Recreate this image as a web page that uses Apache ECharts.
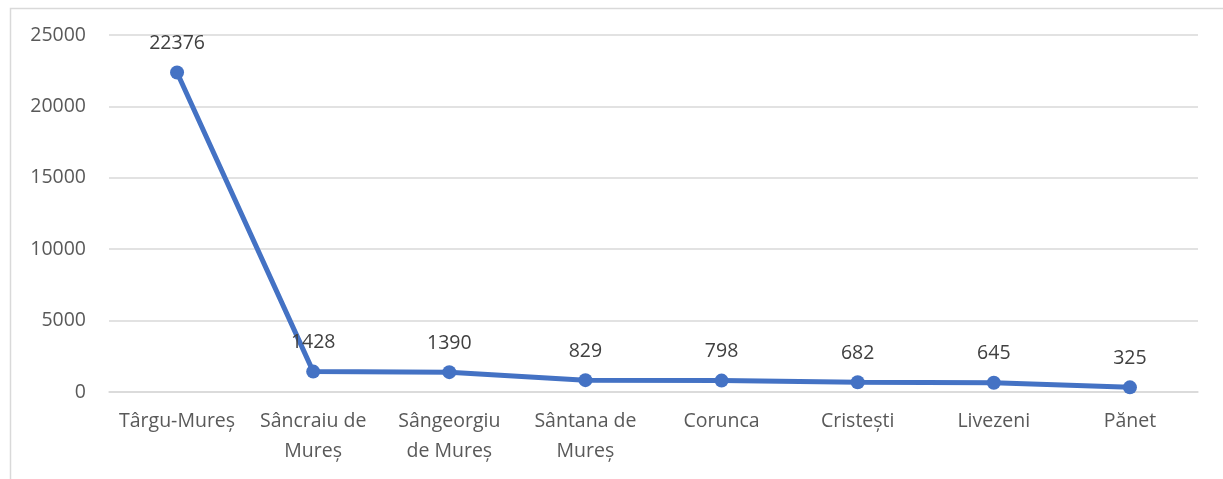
<!DOCTYPE html>
<html>
<head>
<meta charset="utf-8">
<script src="https://cdn.jsdelivr.net/npm/echarts@6/dist/echarts.min.js"></script>
<style>
  html, body { margin: 0; padding: 0; background: #fff; }
  #chart { width: 1223px; height: 479px; }
</style>
</head>
<body>
<div id="chart"></div>
<script>
// localitati si populatie
const categories = ['Târgu-Mureș', 'Sâncraiu de\nMureș', 'Sângeorgiu\nde Mureș', 'Sântana de\nMureș', 'Corunca', 'Cristești', 'Livezeni', 'Pănet'];
const population = [22376, 1428, 1390, 829, 798, 682, 645, 325];
const yTicks = [0, 5000, 10000, 15000, 20000, 25000];

const font = '"Open Sans", "Noto Sans", sans-serif';
const chart = echarts.init(document.getElementById('chart'));

const option = {
  animation: false,
  backgroundColor: '#fff',
  // rama graficului (doar sus si stanga se vad)
  graphic: [
    {
      type: 'rect',
      left: 8, top: 6,
      shape: { width: 1300, height: 600 },
      style: { fill: 'none', stroke: '#d9d9d9', lineWidth: 1.5 },
      silent: true
    }
  ],
  grid: { left: 109, right: 25, top: 35, bottom: 87 },
  xAxis: {
    type: 'category',
    data: categories,
    boundaryGap: true,
    axisLine: { lineStyle: { color: '#d9d9d9', width: 1.5 } },
    axisTick: { show: false },
    axisLabel: {
      color: '#595959',
      fontFamily: font,
      fontSize: 19.5,
      lineHeight: 30,
      margin: 14,
      interval: 0
    }
  },
  yAxis: {
    type: 'value',
    min: yTicks[0],
    max: yTicks[yTicks.length - 1],
    interval: 5000,
    axisLine: { show: false },
    axisTick: { show: false },
    splitLine: { lineStyle: { color: '#d9d9d9', width: 1.5 } },
    axisLabel: {
      color: '#595959',
      fontFamily: font,
      fontSize: 19.5,
      margin: 23,
      formatter: (v) => String(v)
    }
  },
  series: [
    {
      type: 'line',
      data: population,
      symbol: 'circle',
      symbolSize: 14,
      lineStyle: { color: '#4472c4', width: 5 },
      itemStyle: { color: '#4472c4' },
      label: {
        show: true,
        position: 'top',
        distance: 12,
        color: '#404040',
        fontFamily: font,
        fontSize: 19.5
      }
    }
  ]
};

option && chart.setOption(option);
</script>
</body>
</html>
